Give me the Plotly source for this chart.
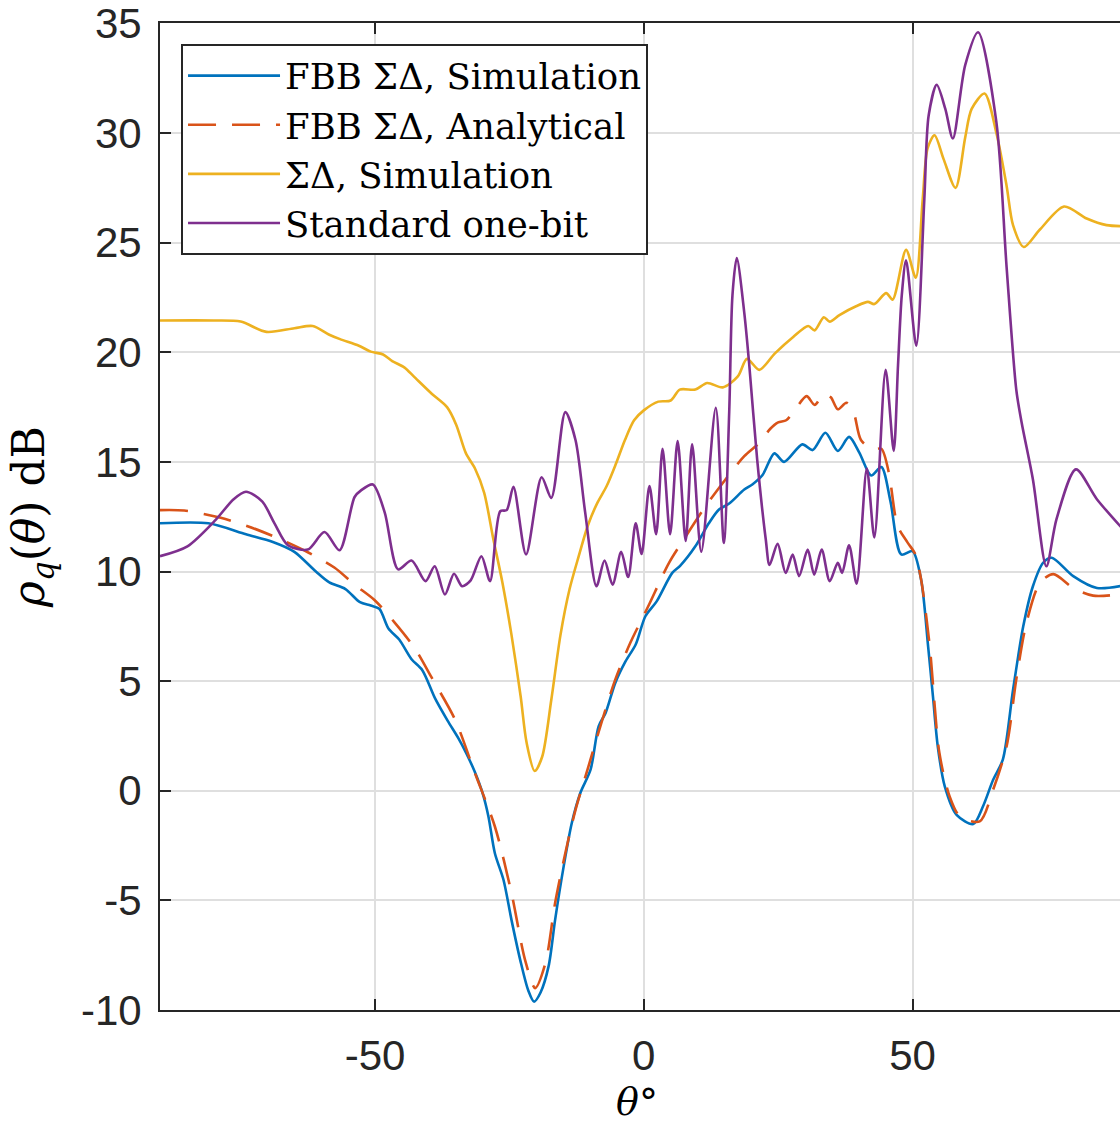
import plotly.graph_objects as go

# FBB Sigma-Delta, simulation
fbb_sim_theta = [-90, -81, -74, -69, -65, -61, -58.5, -55.5, -52.8, -50.8, -49.2, -47.5, -45.5, -43.2,
                 -41.2, -38.8, -36.5, -34.5, -33, -31.5, -30, -28.9, -27.7, -26.1, -24.6, -23, -21.5,
                 -20.4, -19.2, -17.7, -16.5, -14.9, -13.4, -11.8, -9.9, -8.4, -7.1, -5.3, -3.4, -1.5,
                 0.3, 2.4, 5.3, 6.8, 9.6, 12.1, 14, 15.9, 18.7, 20.2, 22.1, 24.3, 26.1, 29.5, 31.4,
                 33.8, 36.1, 38.2, 40.1, 42.3, 44.2, 45.9, 47.9, 50.0, 51.6, 52.9, 53.8, 54.7, 56,
                 58.2, 61.3, 63.1, 65, 66.8, 68.7, 70.6, 72.4, 74.3, 75.9, 79.9, 84.3, 90]
fbb_sim_rho = [12.2, 12.2, 11.7, 11.35, 10.9, 10.0, 9.5, 9.2, 8.6, 8.45, 8.3, 7.4, 6.9, 6.0,
               5.5, 4.2, 3.2, 2.4, 1.7, 0.9, -0.1, -1.17, -2.85, -4.06, -5.9, -7.7, -9.1,
               -9.62, -9.2, -8.0, -5.9, -3.45, -1.48, -0.1, 0.96, 2.94, 3.55, 4.92, 5.9, 6.67,
               7.96, 8.64, 9.94, 10.27, 11.15, 12.2, 12.83, 13.1, 13.74, 13.97, 14.4, 15.39, 15.0, 15.8, 15.54,
               16.33, 15.5, 16.14, 15.42, 14.38, 14.77, 13.2, 10.78, 10.93, 9.63, 6.59, 4.3, 2.02, 0.2,
               -1.1, -1.52, -0.72, 0.5, 1.42, 4.6, 7.5, 9.33, 10.4, 10.63, 9.79, 9.25, 9.4]

# FBB Sigma-Delta, analytical
fbb_ana_theta = [-90, -85.5, -78.7, -73.7, -67.5, -62.5, -57.5, -53.8, -50.1, -46.3, -42.6, -39.5,
                 -35.1, -31.4, -27.7, -24.6, -22.1, -20.2, -18.3, -16.5, -14.6, -12.7, -10.3, -7.8,
                 -5.3, -2.5, 0.9, 4.7, 7.8, 11.5, 15.2, 18.7, 21.5, 23.5, 25, 26.5, 28.2, 30.3, 31.8,
                 33.5, 34.8, 36.1, 37.7, 39, 40.4, 42.6, 44.2, 45.6, 47.2, 49, 50.5, 51.6, 53.2, 55,
                 56.9, 58.8, 62.5, 65, 67.5, 69.3, 71.2, 73.7, 76.2, 79.9, 83.6, 90]
fbb_ana_rho = [12.8, 12.78, 12.45, 12.07, 11.46, 10.88, 10.17, 9.4, 8.7, 7.66, 6.5, 5.18,
               3.24, 0.8, -1.63, -4.67, -7.7, -9.0, -7.87, -5.13, -2.85, -0.87, 1.1, 3.17,
               5.07, 6.75, 8.45, 10.4, 11.6, 12.98, 14.2, 15.26, 15.87, 16.5, 16.8, 16.9, 17.4, 18.0, 17.6,
               18.1, 17.95, 17.4, 17.7, 17.3, 16.0, 15.57, 15.6, 14.5, 12.1, 11.35, 10.8, 9.63, 6.59, 1.72,
               -0.26, -1.17, -1.4, 0.05, 2.02, 5.07, 7.66, 9.48, 9.88, 9.25, 8.9, 9.0]

# Sigma-Delta, simulation
sd_sim_theta = [-90, -80, -75, -70.2, -65, -61.6, -58.5, -56.5, -53, -50.8, -48.5, -46.8, -44.5,
                -42.8, -39.4, -36.6, -34.9, -33.1, -31.4, -29.7, -28, -26.3, -24.6, -22.9, -21.8,
                -20.3, -18.9, -17.2, -15.5, -13.8, -12.1, -10.4, -8.7, -6.9, -5.2, -3.5, -1.8, 0,
                2.7, 5, 6.7, 9.6, 11.8, 14.7, 17.5, 19.2, 21.5, 24.4, 27.8, 30.6, 31.8, 33.5, 34.6,
                36.4, 39.5, 41.7, 42.9, 45.1, 46.3, 48.8, 50.6, 51.9, 52.8, 54.1, 55.8, 58, 59.8,
                61, 63.4, 65.6, 67.5, 68.7, 70.7, 73.7, 78.2, 82.4, 86.1, 90]
sd_sim_rho = [21.45, 21.45, 21.4, 20.93, 21.1, 21.2, 20.8, 20.6, 20.3, 20.03, 19.9, 19.6, 19.3,
              18.9, 18.1, 17.5, 16.7, 15.4, 14.7, 13.6, 11.5, 9.5, 7.1, 4.3, 2.2,
              0.9, 1.55, 4.15, 7.1, 9.2, 10.7, 12.1, 13.1, 13.9, 14.9, 16.0, 16.9, 17.35,
              17.75, 17.8, 18.3, 18.3, 18.6, 18.4, 18.9, 19.7, 19.2, 19.95, 20.7, 21.2, 21.0, 21.6, 21.4,
              21.7, 22.1, 22.3, 22.2, 22.7, 22.4, 24.67, 23.4, 27, 29.3, 29.9, 28.8, 27.5, 29.8,
              31.1, 31.8, 30.0, 27.6, 25.8, 24.8, 25.6, 26.65, 26.1, 25.8, 25.75]

# Standard one-bit
onebit_theta = [-90, -84.9, -79.6, -76.3, -74, -71, -68.7, -66.2, -62.5, -59.4, -56.6, -53.8, -52.6,
                -50.4, -48.2, -45.7, -43.2, -40.6, -38.9, -37, -35.3, -33.8, -32.2, -30.2, -28.6,
                -26.7, -25.5, -24.25, -21.9, -19, -17.2, -14.6, -12.7, -10.9, -8.8, -7.3, -5.8, -4.2,
                -2.9, -1.5, -0.4, 1.06, 2.3, 3.5, 4.9, 6.3, 7.8, 9.0, 10.7, 13.4, 14.9, 15.9, 16.5,
                17.3, 18.7, 19.6, 21.1, 22.7, 23.4, 24.9, 26.4, 27.7, 28.9, 30.5, 31.7, 33.1, 34.6,
                36.1, 36.9, 38.2, 39.6, 41.5, 42.9, 45.0, 46.5, 47.3, 48.0, 48.8, 50.7, 52.2, 53,
                54.5, 56.1, 57.5, 59.8, 62.2, 65.6, 67.5, 69.3, 70.3, 72.4, 74.9, 76.8, 80.4, 84.3, 90]
onebit_rho = [10.7, 11.15, 12.37, 13.3, 13.64, 13.2, 12.2, 11.2, 11.0, 11.8, 10.97, 13.4, 13.7,
              13.97, 12.7, 10.1, 10.5, 9.56, 10.24, 8.95, 9.9, 9.33, 9.6, 10.7, 9.56,
              12.75, 12.8, 13.87, 10.78, 14.3, 13.36, 17.27, 16.0, 12.7, 9.33, 10.5, 9.4, 10.9,
              9.75, 12.2, 10.8, 13.9, 11.7, 15.6, 11.7, 15.95, 11.4, 15.8, 10.9, 17.47, 11.3, 17.3, 22.6,
              24.3, 21.8, 19.5, 15.1, 11.46, 10.3, 11.26, 9.93, 10.78, 9.79, 11.0, 9.86, 11.0, 9.56,
              10.4, 9.94, 11.2, 9.45, 14.7, 11.55, 19.2, 15.5, 19.4, 22.6, 24.2, 20.3, 27.0, 30.8,
              32.2, 31.1, 29.75, 33.1, 34.6, 30.5, 23.9, 18.3, 16.8, 14.2, 10.24, 12.4, 14.66, 13.3, 11.7]

x_ticks = [-50, 0, 50]
x_tick_text = ["-50", "0", "50"]
y_ticks = [-10, -5, 0, 5, 10, 15, 20, 25, 30, 35]
y_tick_text = ["-10", "-5", "0", "5", "10", "15", "20", "25", "30", "35"]

AXIS = "#262626"
GRID = "#dfdfdf"
SERIF = "DejaVu Serif, Liberation Serif, serif"
SANS = "Liberation Sans, Arial, Helvetica, sans-serif"

series = [
    ("FBB ΣΔ, Simulation", fbb_sim_theta, fbb_sim_rho, "#0072BD", "solid"),
    ("FBB ΣΔ, Analytical", fbb_ana_theta, fbb_ana_rho, "#D95319", "28px,16px"),
    ("ΣΔ, Simulation", sd_sim_theta, sd_sim_rho, "#EDB120", "solid"),
    ("Standard one-bit", onebit_theta, onebit_rho, "#7E2F8E", "solid"),
]

fig = go.Figure()
for name, th, rho, color, dash in series:
    fig.add_trace(go.Scatter(
        x=th, y=rho, name=name, mode="lines",
        line=dict(color=color, width=2.6, dash=dash, shape="spline", smoothing=0.8),
    ))

fig.update_layout(
    width=1120, height=1127,
    margin=dict(l=160, r=0, t=23, b=117, autoexpand=False),
    plot_bgcolor="white", paper_bgcolor="white",
    font=dict(family=SANS, size=42, color=AXIS),
    showlegend=True,
    legend=dict(
        x=0.0219, y=0.9787, xanchor="left", yanchor="top",
        bgcolor="white", bordercolor=AXIS, borderwidth=2,
        font=dict(family=SERIF, size=35.5, color="black"),
        itemwidth=92, tracegroupgap=0,
    ),
    xaxis=dict(
        range=[-90, 88.6], tickvals=x_ticks, ticktext=x_tick_text,
        ticks="inside", ticklen=11, tickwidth=2, tickcolor=AXIS,
        showline=True, linewidth=2, linecolor=AXIS, mirror="ticks",
        showgrid=True, gridcolor=GRID, gridwidth=2, zeroline=False,
        ticklabelstandoff=8, automargin=False,
    ),
    yaxis=dict(
        range=[-10, 35.02], tickvals=y_ticks, ticktext=y_tick_text,
        ticks="inside", ticklen=11, tickwidth=2, tickcolor=AXIS,
        showline=True, linewidth=2, linecolor=AXIS, mirror=False,
        showgrid=True, gridcolor=GRID, gridwidth=2, zeroline=False,
        ticklabelstandoff=8, automargin=False,
        title=dict(text="<i>ρ<sub>q</sub></i>(<i>θ</i>) dB", font=dict(family=SERIF, size=44, color="black"), standoff=22),
    ),
    annotations=[dict(
        text="<i>θ</i>°", xref="paper", yref="paper", x=0.497, y=-0.093,
        xanchor="center", yanchor="middle", showarrow=False,
        font=dict(family=SERIF, size=38, color="black"),
    )],
)

fig.write_html("out.html")
